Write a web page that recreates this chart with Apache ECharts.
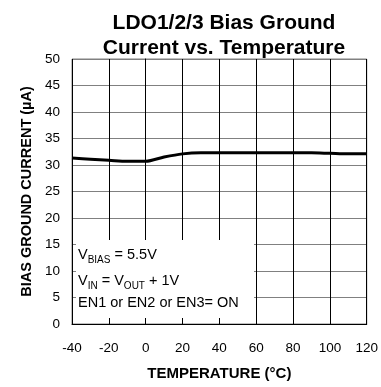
<!DOCTYPE html>
<html>
<head>
<meta charset="utf-8">
<script src="https://cdn.jsdelivr.net/npm/echarts@6/dist/echarts.min.js"></script>
<style>html,body{margin:0;padding:0;background:#fff;}#c{width:381px;height:387px;}</style>
</head>
<body>
<div id="c"></div>
<script>
const temperatures = [-40, -30, -20, -10, 0, 10, 20, 30, 40, 60, 80, 90, 100, 110, 120];
const biasCurrent = [31.3, 31.1, 30.9, 30.7, 30.7, 31.5, 32.1, 32.3, 32.3, 32.3, 32.3, 32.3, 32.2, 32.1, 32.1];
const xTicks = [-40, -20, 0, 20, 40, 60, 80, 100, 120];
const yTicks = [0, 5, 10, 15, 20, 25, 30, 35, 40, 45, 50];
const titleLines = ['LDO1/2/3 Bias Ground', 'Current vs. Temperature'];
const noteLines = ['{n|V}{s|BIAS}{n| = 5.5V}', '{n|V}{s|IN}{n| = V}{s|OUT}{n| + 1V}', '{n|EN1 or EN2 or EN3= ON}'];

const FONT = '"Liberation Sans", Arial, sans-serif';
const rich = {
  n: { fontFamily: FONT, fontSize: 14.5, color: '#000', lineHeight: 18, verticalAlign: 'bottom' },
  s: { fontFamily: FONT, fontSize: 10, color: '#000', lineHeight: 18, verticalAlign: 'bottom', padding: [0, 0, -3, 0] }
};
const noteTops = [247, 273, 295];
const chart = echarts.init(document.getElementById('c'));
chart.setOption({
  animation: false,
  title: {
    text: titleLines.join('\n'),
    left: 219, top: 6, textAlign: 'center',
    textStyle: { fontFamily: FONT, fontSize: 21, fontWeight: 'bold', color: '#000', lineHeight: 25 }
  },
  grid: { left: 72, right: 13, top: 59, bottom: 63, show: true, borderColor: '#808080', borderWidth: 1, backgroundColor: '#fff' },
  xAxis: {
    type: 'value', min: xTicks[0], max: xTicks[xTicks.length - 1], interval: 20,
    name: 'TEMPERATURE (°C)', nameLocation: 'middle', nameGap: 42,
    nameTextStyle: { fontFamily: FONT, fontSize: 15, fontWeight: 'bold', color: '#000' },
    axisLine: { lineStyle: { color: '#000', width: 1 } },
    axisTick: { show: false },
    axisLabel: { fontFamily: FONT, fontSize: 13.5, color: '#000', margin: 17 },
    splitLine: { show: true, lineStyle: { color: '#000', width: 1 } }
  },
  yAxis: {
    type: 'value', min: yTicks[0], max: yTicks[yTicks.length - 1], interval: 5,
    name: 'BIAS GROUND CURRENT (µA)', nameLocation: 'middle', nameGap: 36,
    nameTextStyle: { fontFamily: FONT, fontSize: 14.5, fontWeight: 'bold', color: '#000' },
    axisLine: { show: true, lineStyle: { color: '#000', width: 1 } },
    axisTick: { show: false },
    axisLabel: { fontFamily: FONT, fontSize: 13.5, color: '#000', margin: 12 },
    splitLine: { show: true, lineStyle: { color: '#808080', width: 1 } }
  },
  graphic: [
    { type: 'rect', left: 76, top: 240, z: 1, shape: { width: 178, height: 78 }, style: { fill: '#fff' } }
  ].concat(noteLines.map((t, i) => ({
    type: 'text', left: 78, top: noteTops[i], z: 3,
    style: { text: t, rich: rich }
  }))),
  series: [{
    type: 'line', z: 5,
    data: temperatures.map((t, i) => [t, biasCurrent[i]]),
    smooth: 0.3, symbol: 'none',
    lineStyle: { color: '#000', width: 3 }
  }]
});
</script>
</body>
</html>
